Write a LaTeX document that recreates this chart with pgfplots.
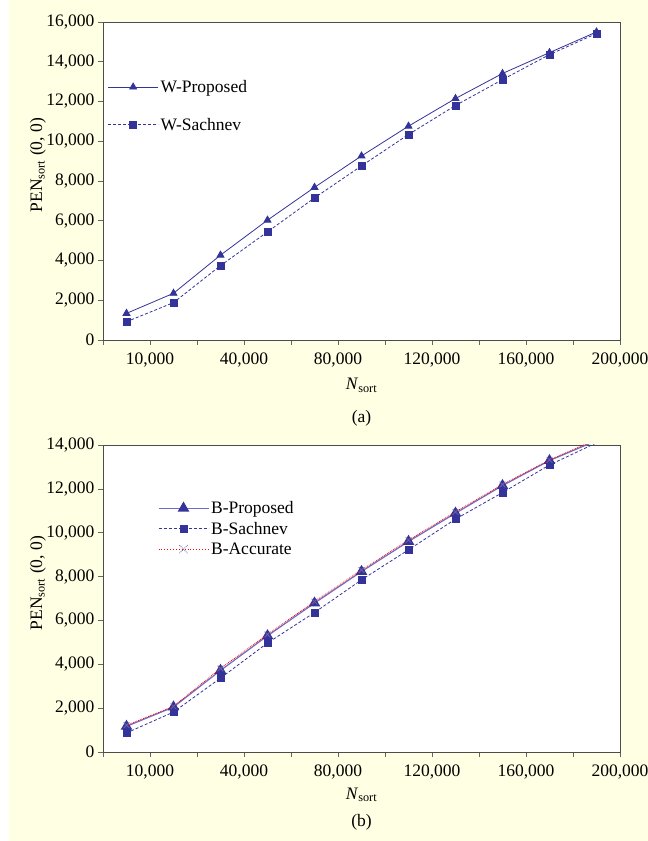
\documentclass[border=0pt]{standalone}
\usepackage{pgfplots}
\pgfplotsset{compat=1.18}
\usepackage{fontspec}
\setmainfont{Liberation Serif}
\definecolor{bg}{RGB}{255,255,227}
\definecolor{navy}{RGB}{51,51,153}
\definecolor{lightnavy}{RGB}{110,110,200}
\definecolor{xgray}{RGB}{100,100,170}
\newcommand{\fs}{\fontsize{17.5}{20}\selectfont}
\pgfplotsset{
  myax/.style={
    scale only axis, width=517pt,
    xmin=0, xmax=11, ymin=0,
    axis background/.style={fill=white},
    axis line style={draw=black!70, line width=0.9pt},
    tick style={draw=black!60, line width=0.6pt},
    tick align=outside, major tick length=5pt,
    xtick pos=left, ytick pos=left,
    xtick={0,...,11},
    xticklabels={{},{10,000},{},{40,000},{},{80,000},{},{120,000},{},{160,000},{},{200,000}},
    scaled y ticks=false,
    /pgf/number format/.cd, 1000 sep={,}, assume math mode=true,
    /pgfplots/.cd,
    tick label style={font=\fs},
    xticklabel style={yshift=-4pt},
    ylabel={PEN\textsubscript{sort} (0, 0)},
    xlabel={\textit{N}\textsubscript{sort}},
    every axis y label/.style={at={(axis description cs:-0.126,0.55)},rotate=90,anchor=center,font=\fs},
    legend style={draw=none, fill=none, font=\fs, cells={anchor=west}},
    legend cell align=left,
    clip mode=individual,
  }
}
\begin{document}
\begin{tikzpicture}[x=1pt,y=1pt]
\fill[bg] (0,0) rectangle (648,841);
\fill[white] (0,0) rectangle (9,841);
% Panel (a)
\begin{axis}[myax, at={(103pt,501pt)}, anchor=south west, height=318pt,
  ymax=16000, ytick={0,2000,...,16000},
  every axis x label/.style={at={(axis description cs:0.5,-0.142)},anchor=center,font=\fs},
  legend style={at={(axis description cs:0.003,0.83)}, anchor=north west, row sep=20pt},
  legend image code/.code={\draw[#1] (0pt,0pt) -- (50pt,0pt); \draw[#1, only marks] plot coordinates {(25pt,0pt)};}]
\addplot[navy, line width=0.8pt, mark=triangle*, mark size=4pt, mark options={solid, fill=navy}]
  coordinates {(0.5,1340) (1.5,2350) (2.5,4270) (3.5,6030) (4.5,7680) (5.5,9260) (6.5,10760) (7.5,12150) (8.5,13410) (9.5,14460) (10.5,15500)};
\addlegendentry{W-Proposed}
\addplot[navy, line width=0.8pt, densely dashed, mark=square*, mark size=3.5pt, mark options={solid, fill=navy}]
  coordinates {(0.5,920) (1.5,1880) (2.5,3740) (3.5,5440) (4.5,7150) (5.5,8760) (6.5,10340) (7.5,11800) (8.5,13100) (9.5,14360) (10.5,15420)};
\addlegendentry{W-Sachnev}
\node[font=\fs] at (axis description cs:0.5,-0.245) {(a)};
\end{axis}
% Panel (b)
\begin{axis}[myax, at={(103pt,89pt)}, anchor=south west, height=307pt,
  ymax=14000, ytick={0,2000,...,14000},
  every axis x label/.style={at={(axis description cs:0.5,-0.14)},anchor=center,font=\fs},
  legend style={at={(axis description cs:0.1,0.83)}, anchor=north west, row sep=3pt},
  legend image code/.code={\draw[#1] (0pt,0pt) -- (50pt,0pt); \draw[#1, only marks] plot coordinates {(25pt,0pt)};}]
\addplot[lightnavy, line width=1.2pt, mark=triangle*, mark size=5.5pt, mark options={solid, fill=navy, draw=navy}]
  coordinates {(0.5,1170) (1.5,2050) (2.5,3720) (3.5,5300) (4.5,6790) (5.5,8230) (6.5,9600) (7.5,10890) (8.5,12150) (9.5,13290) (10.5,14200)};
\addlegendentry{B-Proposed}
\addplot[navy, line width=0.8pt, densely dashed, mark=square*, mark size=3.5pt, mark options={solid, fill=navy}]
  coordinates {(0.5,870) (1.5,1820) (2.5,3370) (3.5,4970) (4.5,6360) (5.5,7850) (6.5,9220) (7.5,10620) (8.5,11830) (9.5,13090) (10.5,14100)};
\addlegendentry{B-Sachnev}
\addplot[red, line width=0.8pt, densely dotted, mark=x, mark size=4pt, mark options={solid, draw=xgray},
  legend image code/.code={\draw[red, line width=0.9pt, dotted] (0pt,0pt) -- (50pt,0pt); \draw[xgray, line width=0.8pt] (21pt,-4pt) -- (29pt,4pt) (21pt,4pt) -- (29pt,-4pt);}]
  coordinates {(0.5,1220) (1.5,2080) (2.5,3810) (3.5,5360) (4.5,6860) (5.5,8300) (6.5,9660) (7.5,10950) (8.5,12200) (9.5,13320) (10.5,14260)};
\addlegendentry{B-Accurate}
\node[font=\fs] at (axis description cs:0.5,-0.228) {(b)};
\end{axis}
\pgfresetboundingbox
\useasboundingbox (0,0) rectangle (648,841);
\end{tikzpicture}
\end{document}
